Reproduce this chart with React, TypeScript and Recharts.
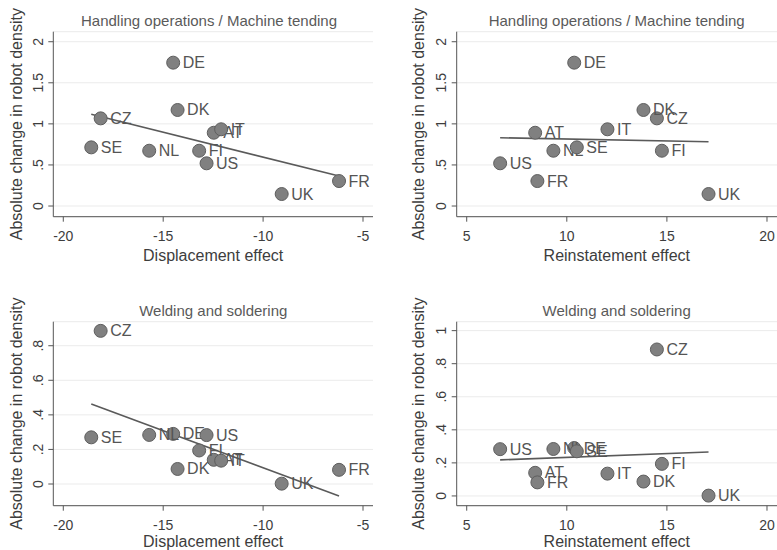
import React from 'react';
import { ScatterChart, Scatter, XAxis, YAxis, CartesianGrid, ReferenceLine } from 'recharts';

const countries = ['AT', 'CZ', 'DE', 'DK', 'FI', 'FR', 'IT', 'NL', 'SE', 'UK', 'US'];
const displacement = [-12.47, -18.13, -14.5, -14.28, -13.2, -6.2, -12.1, -15.7, -18.6, -9.07, -12.83];
const reinstatement = [8.42, 14.5, 10.37, 13.83, 14.75, 8.53, 12.03, 9.33, 10.5, 17.08, 6.67];
const handlingDensity = [0.892, 1.067, 1.745, 1.169, 0.673, 0.304, 0.934, 0.673, 0.714, 0.146, 0.52];
const weldingDensity = [0.14, 0.886, 0.29, 0.087, 0.194, 0.082, 0.135, 0.284, 0.27, 0.002, 0.283];

// fitted-line endpoints: [x0, y0, x1, y1]
const fitHandlingDisp = [-18.6, 1.116, -6.2, 0.365];
const fitHandlingReins = [6.67, 0.831, 17.08, 0.783];
const fitWeldingDisp = [-18.6, 0.463, -6.2, -0.069];
const fitWeldingReins = [6.67, 0.218, 17.08, 0.266];

const dispTicks = [-20, -15, -10, -5];
const dispTickLabels = ['-20', '-15', '-10', '-5'];
const reinsTicks = [5, 10, 15, 20];
const reinsTickLabels = ['5', '10', '15', '20'];
const handlingTicks = [0, 0.5, 1, 1.5, 2];
const handlingTickLabels = ['0', '.5', '1', '1.5', '2'];
const weldingDispTicks = [0, 0.2, 0.4, 0.6, 0.8];
const weldingDispTickLabels = ['0', '.2', '.4', '.6', '.8'];
const weldingReinsTicks = [0, 0.2, 0.4, 0.6, 0.8, 1];
const weldingReinsTickLabels = ['0', '.2', '.4', '.6', '.8', '1'];

const titleHandling = 'Handling operations / Machine tending';
const titleWelding = 'Welding and soldering';
const xLabelDisp = 'Displacement effect';
const xLabelReins = 'Reinstatement effect';
const yLabel = 'Absolute change in robot density';

const FONT = '"Liberation Sans", Arial, Helvetica, sans-serif';
const AXIS = '#555555';
const TEXT = '#3d3d3d';

type PanelProps = {
  left: number; top: number; width: number; height: number;
  mTop: number; mRight: number; yAxisW: number; xAxisH: number;
  xs: number[]; ys: number[]; fit: number[];
  xDomain: number[]; yDomain: number[];
  xTicks: number[]; xTickLabels: string[];
  yTicks: number[]; yTickLabels: string[];
  title: string; titleX: number; titleY: number;
  xLabel: string; xLabelY: number;
  yLabelX: number; yLabel: string;
};

const Marker = (props: any) => {
  const { cx, cy, payload } = props;
  if (cx == null || cy == null) return <g />;
  return (
    <g>
      <circle cx={cx} cy={cy} r={6.5} fill="#808080" stroke="#5e5e5e" strokeWidth={1} />
      <text x={cx + 9.5} y={cy} dominantBaseline="central" fontSize={16} fontFamily={FONT} fill="#555555">
        {payload.c}
      </text>
    </g>
  );
};

const Panel = (p: PanelProps) => {
  const data = countries.map((c, i) => ({ c, x: p.xs[i], y: p.ys[i] }));
  const plotLeft = p.yAxisW;
  const plotRight = p.width - p.mRight;
  const plotTop = p.mTop;
  const plotBottom = p.height - p.xAxisH;
  const plotMidX = (plotLeft + plotRight) / 2;
  const plotMidY = (plotTop + plotBottom) / 2;
  const YTick = (tp: any) => {
    const { x, y, payload } = tp;
    const idx = p.yTicks.indexOf(payload.value);
    const bx = x - 5.5;
    return (
      <text x={bx} y={y} transform={`rotate(-90 ${bx} ${y})`} textAnchor="middle" fontSize={14} fontFamily={FONT} fill={TEXT}>
        {idx >= 0 ? p.yTickLabels[idx] : ''}
      </text>
    );
  };
  return (
    <div style={{ position: 'absolute', left: p.left, top: p.top, width: p.width, height: p.height }}>
      <ScatterChart width={p.width} height={p.height} margin={{ top: p.mTop, right: p.mRight, left: 0, bottom: 0 }}>
        <CartesianGrid horizontal={true} vertical={false} stroke="#ebebeb" strokeWidth={1} />
        <XAxis
          type="number" dataKey="x" domain={p.xDomain} ticks={p.xTicks} allowDataOverflow
          height={p.xAxisH} tickSize={5} tickMargin={9}
          tickFormatter={(v: number) => { const i = p.xTicks.indexOf(v); return i >= 0 ? p.xTickLabels[i] : ''; }}
          tick={{ fontSize: 14, fontFamily: FONT, fill: TEXT }}
          stroke={AXIS} tickLine={{ stroke: AXIS }}
        />
        <YAxis
          type="number" dataKey="y" domain={p.yDomain} ticks={p.yTicks} allowDataOverflow
          width={p.yAxisW} tickSize={5} tickMargin={0}
          tick={<YTick />}
          stroke={AXIS} tickLine={{ stroke: AXIS }}
        />
        <ReferenceLine
          segment={[{ x: p.fit[0], y: p.fit[1] }, { x: p.fit[2], y: p.fit[3] }]}
          stroke="#5a5a5a" strokeWidth={1.6} ifOverflow="visible"
        />
        <Scatter data={data} isAnimationActive={false} shape={<Marker />} />
        <text x={p.titleX} y={p.titleY} textAnchor="middle" fontSize={15} fontFamily={FONT} fill="#5a5a5a">{p.title}</text>
        <text x={plotMidX} y={p.xLabelY} textAnchor="middle" fontSize={16} fontFamily={FONT} fill={TEXT}>{p.xLabel}</text>
        <text x={p.yLabelX} y={plotMidY} transform={`rotate(-90 ${p.yLabelX} ${plotMidY})`} textAnchor="middle" fontSize={16} fontFamily={FONT} fill={TEXT}>{p.yLabel}</text>
      </ScatterChart>
    </div>
  );
};

export default function App() {
  return (
    <div style={{ position: 'absolute', left: 0, top: 0, width: 777, height: 550, background: '#ffffff', overflow: 'hidden' }}>
      <Panel left={0} top={0} width={390} height={275} mTop={31.7} mRight={17} yAxisW={53.3} xAxisH={58.3}
        xs={displacement} ys={handlingDensity} fit={fitHandlingDisp}
        xDomain={[-20.5, -4.5]} yDomain={[-0.13, 2.122]}
        xTicks={dispTicks} xTickLabels={dispTickLabels} yTicks={handlingTicks} yTickLabels={handlingTickLabels}
        title={titleHandling} titleX={209} titleY={26} xLabel={xLabelDisp} xLabelY={261} yLabelX={22.2} yLabel={yLabel} />
      <Panel left={390} top={0} width={387} height={275} mTop={31.7} mRight={0} yAxisW={66.7} xAxisH={58.3}
        xs={reinstatement} ys={handlingDensity} fit={fitHandlingReins}
        xDomain={[4.5, 20.5]} yDomain={[-0.13, 2.122]}
        xTicks={reinsTicks} xTickLabels={reinsTickLabels} yTicks={handlingTicks} yTickLabels={handlingTickLabels}
        title={titleHandling} titleX={226.7} titleY={26} xLabel={xLabelReins} xLabelY={261} yLabelX={33.8} yLabel={yLabel} />
      <Panel left={0} top={280} width={390} height={270} mTop={41.7} mRight={17} yAxisW={53.3} xAxisH={44.3}
        xs={displacement} ys={weldingDensity} fit={fitWeldingDisp}
        xDomain={[-20.5, -4.5]} yDomain={[-0.1255, 0.939]}
        xTicks={dispTicks} xTickLabels={dispTickLabels} yTicks={weldingDispTicks} yTickLabels={weldingDispTickLabels}
        title={titleWelding} titleX={213.3} titleY={35.5} xLabel={xLabelDisp} xLabelY={266.5} yLabelX={22.2} yLabel={yLabel} />
      <Panel left={390} top={280} width={387} height={270} mTop={41.7} mRight={0} yAxisW={66.7} xAxisH={44.3}
        xs={reinstatement} ys={weldingDensity} fit={fitWeldingReins}
        xDomain={[4.5, 20.5]} yDomain={[-0.059, 1.054]}
        xTicks={reinsTicks} xTickLabels={reinsTickLabels} yTicks={weldingReinsTicks} yTickLabels={weldingReinsTickLabels}
        title={titleWelding} titleX={226.7} titleY={35.5} xLabel={xLabelReins} xLabelY={266.5} yLabelX={33.8} yLabel={yLabel} />
    </div>
  );
}
